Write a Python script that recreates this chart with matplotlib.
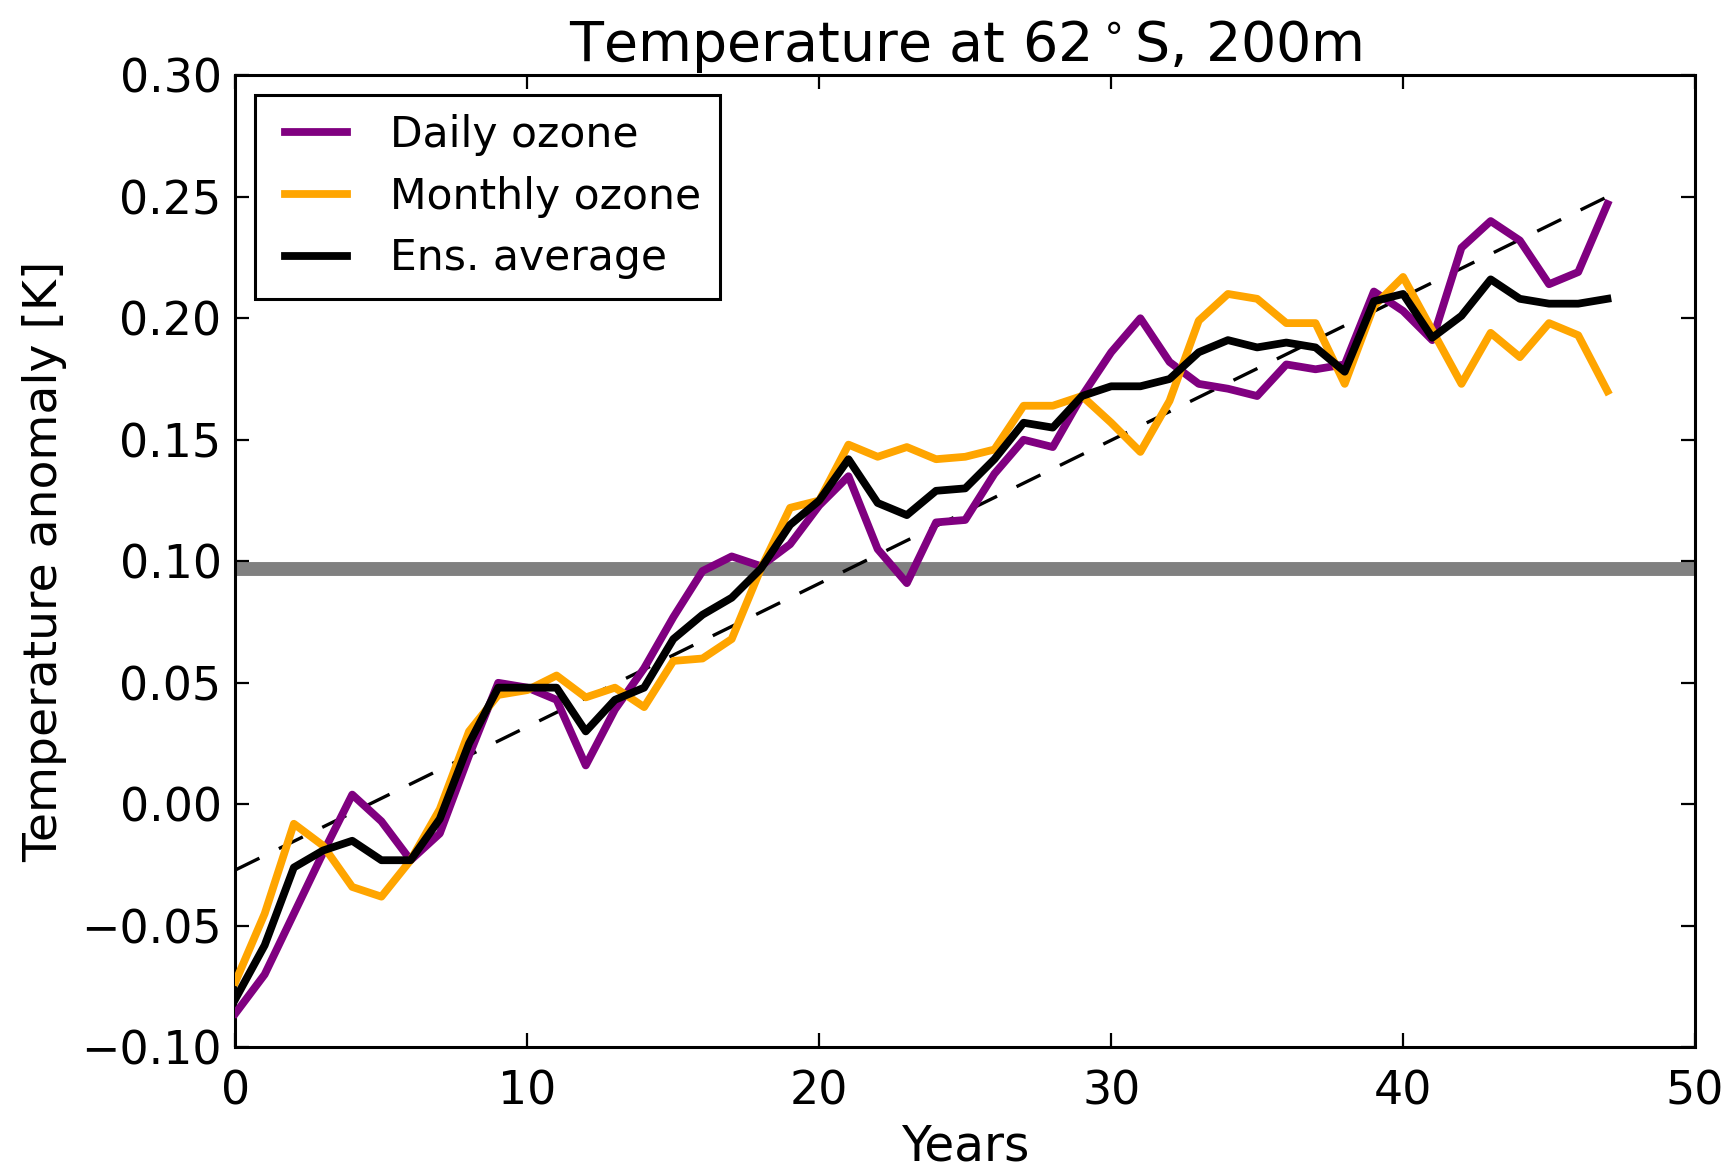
import matplotlib
matplotlib.use("Agg")
import matplotlib.pyplot as plt
from matplotlib.legend_handler import HandlerLine2D
from matplotlib.lines import Line2D
import numpy as np

years = list(range(48))
daily_ozone = [-0.086, -0.070, -0.045, -0.020, 0.004, -0.007, -0.023, -0.012, 0.020, 0.050,
               0.048, 0.043, 0.016, 0.039, 0.056, 0.077, 0.096, 0.102, 0.098, 0.107,
               0.123, 0.135, 0.105, 0.091, 0.116, 0.117, 0.136, 0.150, 0.147, 0.168,
               0.186, 0.200, 0.182, 0.173, 0.171, 0.168, 0.181, 0.179, 0.181, 0.211,
               0.203, 0.191, 0.229, 0.240, 0.232, 0.214, 0.219, 0.247]
monthly_ozone = [-0.073, -0.045, -0.008, -0.017, -0.034, -0.038, -0.023, -0.002, 0.030, 0.045,
                 0.047, 0.053, 0.044, 0.048, 0.040, 0.059, 0.060, 0.068, 0.097, 0.122,
                 0.125, 0.148, 0.143, 0.147, 0.142, 0.143, 0.146, 0.164, 0.164, 0.168,
                 0.157, 0.145, 0.166, 0.199, 0.210, 0.208, 0.198, 0.198, 0.173, 0.205,
                 0.217, 0.195, 0.173, 0.194, 0.184, 0.198, 0.193, 0.170]
ens_average = [-0.080, -0.058, -0.026, -0.019, -0.015, -0.023, -0.023, -0.006, 0.025, 0.048,
               0.048, 0.048, 0.030, 0.043, 0.048, 0.068, 0.078, 0.085, 0.097, 0.115,
               0.125, 0.142, 0.124, 0.119, 0.129, 0.130, 0.142, 0.157, 0.155, 0.168,
               0.172, 0.172, 0.175, 0.186, 0.191, 0.188, 0.190, 0.188, 0.178, 0.207,
               0.210, 0.192, 0.201, 0.216, 0.208, 0.206, 0.206, 0.208]
trend_years = [0, 47]
trend_values = [-0.027, 0.250]
threshold = 0.0968

xticks = [0, 10, 20, 30, 40, 50]
yticks = [-0.10, -0.05, 0.00, 0.05, 0.10, 0.15, 0.20, 0.25, 0.30]


class ShiftedLineHandler(HandlerLine2D):
    """Line handle drawn in the right part of the handle box (left inset)."""
    def __init__(self, inset=0.14, **kw):
        super().__init__(**kw)
        self.inset = inset

    def create_artists(self, legend, orig_handle, xdescent, ydescent,
                       width, height, fontsize, trans):
        artists = super().create_artists(legend, orig_handle, xdescent, ydescent,
                                         width, height, fontsize, trans)
        for a in artists:
            if isinstance(a, Line2D):
                xd = np.asarray(a.get_xdata(), dtype=float)
                if len(xd) >= 2:
                    a.set_xdata(np.linspace(xd[0] + self.inset * width, xd[-1], len(xd)))
        return artists


plt.rcParams['font.family'] = ['DejaVu Sans']
fig = plt.figure(figsize=(8.67, 5.84), dpi=200)
ax = fig.add_axes([0.1358, 0.1033, 0.8417, 0.8323])

ax.axhline(threshold, color='gray', lw=5, zorder=1)
ax.plot(trend_years, trend_values, color='black', lw=1.2, dashes=(8, 6.5), zorder=2)
l1, = ax.plot(years, daily_ozone, color='purple', lw=2.8, label='Daily ozone', zorder=3)
l2, = ax.plot(years, monthly_ozone, color='orange', lw=2.8, label='Monthly ozone', zorder=3)
l3, = ax.plot(years, ens_average, color='black', lw=2.8, label='Ens. average', zorder=4)

ax.set_xlim(0, 50)
ax.set_ylim(-0.10, 0.30)
ax.set_xticks(xticks)
ax.set_yticks(yticks)
ax.set_yticklabels(['%.2f' % v if v >= 0 else '\u2212%.2f' % abs(v) for v in yticks])
ax.tick_params(direction='in', top=True, right=True, length=5, width=0.8,
               labelsize=16.5, pad=5)
ax.tick_params(axis='x', pad=8)
for s in ax.spines.values():
    s.set_linewidth(1.1)

ax.set_xlabel('Years', fontsize=17.5, labelpad=3)
ax.set_ylabel('Temperature anomaly [K]', fontsize=17, labelpad=5)
ax.set_title('Temperature at 62$^\\circ$S, 200m', fontsize=20, pad=5)

h = ShiftedLineHandler(inset=0.14)
leg = ax.legend(loc='upper left', fontsize=15.3, fancybox=False, framealpha=1,
                edgecolor='black', handlelength=1.71, handletextpad=1.0,
                borderpad=0.45, labelspacing=0.46, borderaxespad=0.47,
                handler_map={l1: h, l2: h, l3: h})
leg.get_frame().set_linewidth(1.1)

fig.savefig('out.png', dpi=200)
